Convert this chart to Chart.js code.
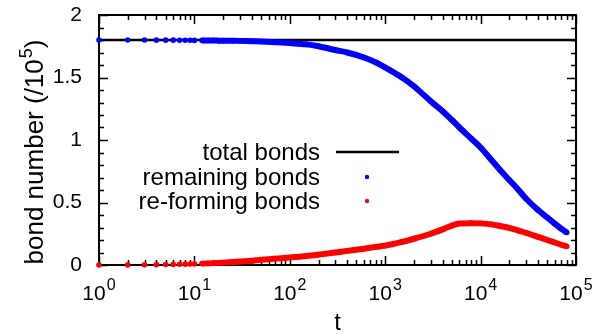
<!DOCTYPE html>
<html><head><meta charset="utf-8">
<script src="https://cdn.jsdelivr.net/npm/chart.js@4"></script>
<style>html,body{margin:0;padding:0;background:#fff}#wrap{width:605px;height:335px;position:relative}</style>
</head><body><div id="wrap"><canvas id="c"></canvas></div>
<script>
// ---- data ----
const tValues = [1,2,3,4,5,6,7,8,9,10,12,14,16,18,20,25,30,40,50,70,100,150,200,300,400,600,800,1000,1500,2000,3000,4000,5000,6000,8000,10000,13000,16000,20000,25000,30000,40000,50000,60000,70000,80000];
const remainingBonds = [1.800,1.800,1.800,1.799,1.799,1.799,1.798,1.798,1.798,1.797,1.797,1.796,1.796,1.795,1.795,1.794,1.793,1.790,1.788,1.782,1.775,1.765,1.750,1.720,1.700,1.660,1.620,1.580,1.500,1.430,1.310,1.230,1.160,1.100,1.010,0.940,0.840,0.760,0.680,0.600,0.530,0.440,0.380,0.330,0.290,0.260];
const reformingBonds = [0,0.001,0.002,0.003,0.004,0.005,0.006,0.007,0.008,0.009,0.011,0.013,0.015,0.017,0.019,0.024,0.028,0.034,0.042,0.051,0.060,0.072,0.083,0.100,0.113,0.130,0.145,0.155,0.185,0.210,0.250,0.285,0.315,0.332,0.335,0.333,0.325,0.312,0.297,0.275,0.257,0.225,0.200,0.180,0.162,0.148];
const totalT = [1, 100000];
const totalBonds = [1.8, 1.8];
const xTickExponents = [0,1,2,3,4,5];
const yTickValues = [0,0.5,1,1.5,2];
const yTickLabels = ['0','0.5','1','1.5','2'];
const seriesNames = ['total bonds','remaining bonds','re-forming bonds'];
const xTitle = 't';
const yTitleMain = 'bond number (/10';
const yTitleSup = '5';
const yTitleEnd = ')';

const FONT = "'Liberation Sans', Arial, sans-serif";
const toXY = (xs, ys) => xs.map((x, i) => ({x, y: ys[i]}));
const DOT_LIMIT = 12;

const decor = {
  id: 'decor',
  beforeDatasetsDraw(chart) {
    const {ctx, chartArea: a, scales: {x, y}} = chart;
    ctx.save();
    ctx.strokeStyle = '#000';
    ctx.lineWidth = 1.5;
    for (let e = 0; e <= 5; e++) {
      for (let m = 1; m <= 9; m++) {
        const v = m * Math.pow(10, e);
        if (v > 100000) break;
        const px = Math.round(x.getPixelForValue(v)) + 0.5;
        const len = m === 1 ? 9 : 5;
        ctx.beginPath();
        ctx.moveTo(px, a.bottom); ctx.lineTo(px, a.bottom - len);
        ctx.moveTo(px, a.top); ctx.lineTo(px, a.top + len);
        ctx.stroke();
      }
    }
    for (let k = 0; k <= 20; k++) {
      const v = k / 10;
      const py = Math.round(y.getPixelForValue(v)) + 0.5;
      const len = k % 5 === 0 ? 9 : 5;
      ctx.beginPath();
      ctx.moveTo(a.left, py); ctx.lineTo(a.left + len, py);
      ctx.moveTo(a.right, py); ctx.lineTo(a.right - len, py);
      ctx.stroke();
    }
    ctx.lineWidth = 2;
    ctx.strokeRect(a.left, a.top, a.right - a.left, a.bottom - a.top);
    ctx.restore();
  },
  afterDraw(chart) {
    const {ctx, chartArea: a, scales: {x, y}} = chart;
    ctx.save();
    ctx.fillStyle = '#000';
    ctx.font = '21px ' + FONT;
    ctx.textAlign = 'right';
    ctx.textBaseline = 'middle';
    yTickValues.forEach((v, i) => {
      ctx.fillText(yTickLabels[i], a.left - 17, y.getPixelForValue(v));
    });
    ctx.textBaseline = 'alphabetic';
    ctx.textAlign = 'left';
    xTickExponents.forEach(e => {
      const px = x.getPixelForValue(Math.pow(10, e));
      ctx.font = '21px ' + FONT;
      const w1 = ctx.measureText('10').width;
      ctx.font = '16px ' + FONT;
      const w2 = ctx.measureText(String(e)).width;
      const start = px - (w1 + w2 + 1) / 2;
      ctx.font = '21px ' + FONT;
      ctx.fillText('10', start, a.bottom + 35);
      ctx.font = '16px ' + FONT;
      ctx.fillText(String(e), start + w1 + 1, a.bottom + 25);
    });
    ctx.font = '24px ' + FONT;
    ctx.textAlign = 'center';
    ctx.fillText(xTitle, (a.left + a.right) / 2, 330);
    ctx.save();
    ctx.translate(43, 152);
    ctx.rotate(-Math.PI / 2);
    ctx.textAlign = 'left';
    ctx.font = '26px ' + FONT;
    const wm = ctx.measureText(yTitleMain).width;
    const we = ctx.measureText(yTitleEnd).width;
    ctx.font = '18px ' + FONT;
    const ws = ctx.measureText(yTitleSup).width;
    const total = wm + ws + we + 1;
    let sx = -total / 2;
    ctx.font = '26px ' + FONT;
    ctx.fillText(yTitleMain, sx, 0);
    ctx.font = '18px ' + FONT;
    ctx.fillText(yTitleSup, sx + wm + 1, -11);
    ctx.font = '26px ' + FONT;
    ctx.fillText(yTitleEnd, sx + wm + ws + 1, 0);
    ctx.restore();
    ctx.font = '24px ' + FONT;
    ctx.textAlign = 'right';
    ctx.textBaseline = 'alphabetic';
    const rows = [160, 185, 209];
    const mids = [152, 177, 201];
    seriesNames.forEach((n, i) => ctx.fillText(n, 320, rows[i]));
    ctx.strokeStyle = '#000';
    ctx.lineWidth = 2.5;
    ctx.beginPath(); ctx.moveTo(336, mids[0]); ctx.lineTo(399, mids[0]); ctx.stroke();
    ctx.fillStyle = '#0000ff';
    ctx.beginPath(); ctx.arc(367, mids[1], 2.2, 0, Math.PI * 2); ctx.fill();
    ctx.fillStyle = '#ff0000';
    ctx.beginPath(); ctx.arc(367, mids[2], 2.2, 0, Math.PI * 2); ctx.fill();
    ctx.restore();
  }
};

const segStyle = color => ({
  borderColor: c => c.p1.parsed.x <= DOT_LIMIT ? 'rgba(0,0,0,0)' : color
});

new Chart(document.getElementById('c'), {
  type: 'scatter',
  data: {
    datasets: [
      {label: seriesNames[0], data: toXY(totalT, totalBonds), showLine: true, borderColor: '#000', borderWidth: 2.5, pointRadius: 0, order: 3, clip: false},
      {label: seriesNames[1], data: toXY(tValues, remainingBonds), showLine: true, borderColor: '#0000ff', backgroundColor: '#0000ff', borderWidth: 6, pointRadius: 2.8, pointBorderWidth: 0, cubicInterpolationMode: 'monotone', segment: segStyle('#0000ff'), order: 2, clip: false},
      {label: seriesNames[2], data: toXY(tValues, reformingBonds), showLine: true, borderColor: '#ff0000', backgroundColor: '#ff0000', borderWidth: 6, pointRadius: 2.8, pointBorderWidth: 0, cubicInterpolationMode: 'monotone', segment: segStyle('#ff0000'), order: 1, clip: false}
    ]
  },
  options: {
    responsive: true,
    maintainAspectRatio: false,
    animation: false,
    layout: {padding: {left: 99, right: 29, top: 15, bottom: 70}},
    plugins: {legend: {display: false}, tooltip: {enabled: false}},
    scales: {
      x: {type: 'logarithmic', min: 1, max: 100000, display: false},
      y: {type: 'linear', min: 0, max: 2, display: false}
    }
  },
  plugins: [decor]
});
</script>
</body></html>
